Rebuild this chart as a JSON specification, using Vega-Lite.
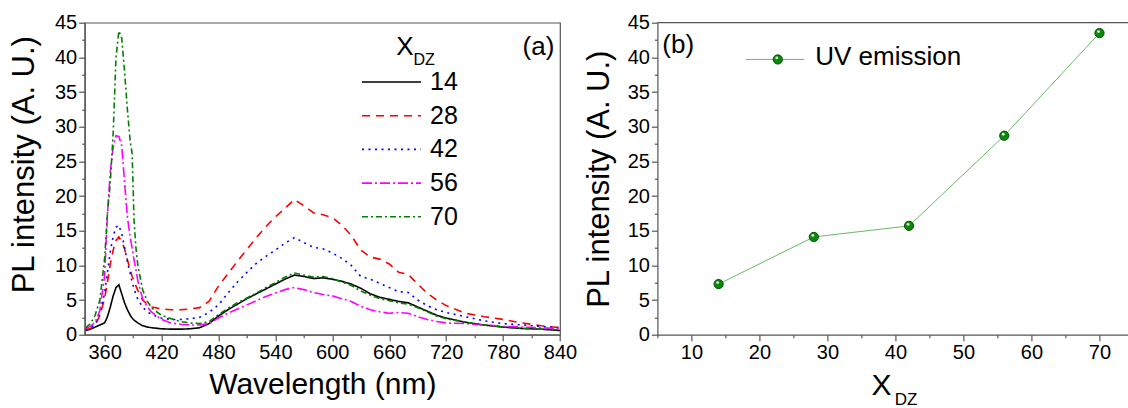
{
  "$schema": "https://vega.github.io/schema/vega-lite/v6.json",
  "autosize": {"type": "none"},
  "padding": {"left": 84.7, "top": 22.7, "right": 1043.3, "bottom": 385.3},
  "background": "white",
  "bounds": "flush",
  "spacing": 96.7,
  "config": {
    "font": "Liberation Sans",
    "view": {"stroke": "#555", "strokeWidth": 1.2},
    "axis": {
      "domainColor": "#555", "domainWidth": 1.2, "tickColor": "#555", "tickWidth": 1.2,
      "labelColor": "#000", "titleColor": "#000",
      "labelFont": "Liberation Sans", "titleFont": "Liberation Sans",
      "labelFontSize": 20, "titleFontWeight": "normal", "grid": false, "tickSize": 6,
      "labelPadding": 2, "labelFlush": false, "labelBound": false
    },
    "text": {"font": "Liberation Sans", "color": "#000"}
  },
  "hconcat": [
    {
      "width": 475.3,
      "height": 312,
      "resolve": {"axis": {"x": "independent", "y": "independent"}},
      "data": {"values": [
        {"nm": 340, "14": 0.6, "28": 0.7, "42": 0.8, "56": 0.9, "70": 1.0},
        {"nm": 345, "14": 0.8, "28": 0.9, "42": 1.0, "56": 1.2, "70": 1.6},
        {"nm": 350, "14": 1.1, "28": 1.3, "42": 1.5, "56": 1.8, "70": 2.8},
        {"nm": 355, "14": 1.4, "28": 2.8, "42": 3.0, "56": 3.5, "70": 5.0},
        {"nm": 360, "14": 1.7, "28": 5.2, "42": 6.0, "56": 8.5, "70": 11.0},
        {"nm": 363, "14": 2.6, "28": 7.6, "42": 9.0, "56": 17.5, "70": 17.5},
        {"nm": 366, "14": 4.0, "28": 10.2, "42": 12.0, "56": 23.5, "70": 22.0},
        {"nm": 369, "14": 5.6, "28": 12.2, "42": 14.2, "56": 27.0, "70": 29.0},
        {"nm": 372, "14": 6.8, "28": 13.6, "42": 15.5, "56": 28.7, "70": 40.0},
        {"nm": 375, "14": 7.2, "28": 14.1, "42": 15.8, "56": 28.6, "70": 43.8},
        {"nm": 378, "14": 5.9, "28": 13.4, "42": 14.6, "56": 27.3, "70": 42.8},
        {"nm": 381, "14": 4.6, "28": 12.4, "42": 12.6, "56": 22.0, "70": 38.0},
        {"nm": 384, "14": 3.6, "28": 10.8, "42": 10.5, "56": 17.0, "70": 32.5},
        {"nm": 387, "14": 2.8, "28": 9.4, "42": 8.8, "56": 14.0, "70": 27.8},
        {"nm": 389, "14": 2.4, "28": 8.4, "42": 7.6, "56": 12.5, "70": 26.2},
        {"nm": 391, "14": 2.1, "28": 7.8, "42": 6.6, "56": 10.8, "70": 16.5},
        {"nm": 393, "14": 1.9, "28": 7.0, "42": 5.8, "56": 9.4, "70": 12.5},
        {"nm": 395, "14": 1.7, "28": 6.4, "42": 5.1, "56": 7.8, "70": 10.0},
        {"nm": 400, "14": 1.3, "28": 5.0, "42": 4.0, "56": 5.2, "70": 6.5},
        {"nm": 405, "14": 1.1, "28": 4.4, "42": 3.3, "56": 4.0, "70": 4.8},
        {"nm": 410, "14": 1.0, "28": 4.0, "42": 2.9, "56": 3.2, "70": 3.8},
        {"nm": 420, "14": 0.85, "28": 3.7, "42": 2.4, "56": 2.2, "70": 2.8},
        {"nm": 430, "14": 0.8, "28": 3.6, "42": 2.2, "56": 1.7, "70": 2.3},
        {"nm": 440, "14": 0.8, "28": 3.6, "42": 2.2, "56": 1.5, "70": 1.9},
        {"nm": 450, "14": 0.85, "28": 3.7, "42": 2.3, "56": 1.4, "70": 1.7},
        {"nm": 460, "14": 1.0, "28": 3.9, "42": 2.5, "56": 1.4, "70": 1.6},
        {"nm": 470, "14": 1.6, "28": 4.8, "42": 3.2, "56": 1.6, "70": 1.9},
        {"nm": 480, "14": 2.7, "28": 7.0, "42": 4.3, "56": 2.4, "70": 2.9},
        {"nm": 490, "14": 3.6, "28": 8.8, "42": 6.0, "56": 3.1, "70": 3.8},
        {"nm": 500, "14": 4.4, "28": 10.6, "42": 7.6, "56": 3.7, "70": 4.6},
        {"nm": 510, "14": 5.2, "28": 12.3, "42": 9.0, "56": 4.3, "70": 5.3},
        {"nm": 520, "14": 5.9, "28": 14.0, "42": 10.3, "56": 4.9, "70": 6.0},
        {"nm": 530, "14": 6.6, "28": 15.6, "42": 11.3, "56": 5.5, "70": 6.8},
        {"nm": 540, "14": 7.3, "28": 17.0, "42": 12.2, "56": 6.0, "70": 7.5},
        {"nm": 550, "14": 8.0, "28": 18.2, "42": 13.2, "56": 6.5, "70": 8.3},
        {"nm": 560, "14": 8.6, "28": 19.5, "42": 14.0, "56": 6.8, "70": 8.9},
        {"nm": 570, "14": 8.4, "28": 18.6, "42": 13.3, "56": 6.5, "70": 8.6},
        {"nm": 580, "14": 8.1, "28": 17.6, "42": 12.6, "56": 6.1, "70": 8.3},
        {"nm": 590, "14": 8.2, "28": 17.3, "42": 12.4, "56": 5.8, "70": 8.4},
        {"nm": 600, "14": 8.0, "28": 16.9, "42": 11.8, "56": 5.6, "70": 8.1},
        {"nm": 610, "14": 7.7, "28": 15.8, "42": 11.0, "56": 5.2, "70": 7.6},
        {"nm": 620, "14": 7.3, "28": 14.3, "42": 10.0, "56": 4.8, "70": 7.1},
        {"nm": 630, "14": 6.7, "28": 12.2, "42": 8.4, "56": 4.1, "70": 6.3},
        {"nm": 640, "14": 5.9, "28": 11.2, "42": 8.0, "56": 3.6, "70": 5.7},
        {"nm": 650, "14": 5.4, "28": 10.9, "42": 7.4, "56": 3.3, "70": 5.2},
        {"nm": 660, "14": 5.1, "28": 10.2, "42": 6.8, "56": 3.1, "70": 4.9},
        {"nm": 670, "14": 4.8, "28": 9.0, "42": 6.2, "56": 3.2, "70": 4.6},
        {"nm": 680, "14": 4.6, "28": 8.7, "42": 6.1, "56": 3.1, "70": 4.4},
        {"nm": 690, "14": 4.0, "28": 7.3, "42": 5.0, "56": 2.6, "70": 3.9},
        {"nm": 700, "14": 3.4, "28": 6.0, "42": 4.2, "56": 2.2, "70": 3.3},
        {"nm": 710, "14": 2.8, "28": 5.0, "42": 3.6, "56": 1.9, "70": 2.7},
        {"nm": 720, "14": 2.4, "28": 4.2, "42": 3.2, "56": 1.7, "70": 2.3},
        {"nm": 740, "14": 1.8, "28": 3.1, "42": 2.6, "56": 1.6, "70": 1.8},
        {"nm": 760, "14": 1.4, "28": 2.6, "42": 2.0, "56": 1.4, "70": 1.4},
        {"nm": 780, "14": 1.1, "28": 2.2, "42": 1.6, "56": 1.2, "70": 1.1},
        {"nm": 800, "14": 0.9, "28": 1.7, "42": 1.4, "56": 1.1, "70": 0.9},
        {"nm": 820, "14": 0.8, "28": 1.3, "42": 1.2, "56": 1.0, "70": 0.8},
        {"nm": 840, "14": 0.6, "28": 1.0, "42": 1.0, "56": 0.9, "70": 0.7}
      ]},
      "transform": [{"fold": ["14", "28", "42", "56", "70"], "as": ["series", "intensity"]}],
      "layer": [
        {
          "mark": {"type": "line", "strokeWidth": 1.6, "clip": true},
          "encoding": {
            "x": {
              "field": "nm", "type": "quantitative",
              "scale": {"domain": [339, 840], "nice": false, "zero": false},
              "axis": {
                "orient": "bottom",
                "values": [360, 420, 480, 540, 600, 660, 720, 780, 840],
                "title": "Wavelength (nm)", "titleFontSize": 30, "titlePadding": 7
              }
            },
            "y": {
              "field": "intensity", "type": "quantitative",
              "scale": {"domain": [0, 45], "nice": false},
              "axis": {
                "orient": "left",
                "values": [0, 5, 10, 15, 20, 25, 30, 35, 40, 45],
                "title": "PL intensity (A. U.)", "titleFontSize": 31, "titlePadding": 14, "titleY": 141.5
              }
            },
            "color": {
              "field": "series", "type": "nominal",
              "scale": {"domain": ["14", "28", "42", "56", "70"], "range": ["#000000", "#ff0000", "#0000ff", "#ff00ff", "#008000"]},
              "legend": {
                "title": null, "orient": "none", "legendX": 276.3, "legendY": 46.8,
                "symbolType": "stroke", "symbolSize": 3481, "symbolStrokeWidth": 1.6,
                "labelFontSize": 25, "labelColor": "#000", "labelOffset": 8, "rowPadding": 7.7,
                "clipHeight": 25, "padding": 0, "symbolOffset": 0
              }
            },
            "strokeDash": {
              "field": "series", "type": "nominal",
              "scale": {"domain": ["14", "28", "42", "56", "70"], "range": [[1, 0], [8, 6], [2, 4.5], [10, 3, 2, 3], [6, 3, 2, 3]]},
              "legend": {
                "title": null, "orient": "none", "legendX": 276.3, "legendY": 46.8,
                "symbolType": "stroke", "symbolSize": 3481, "symbolStrokeWidth": 1.6,
                "labelFontSize": 25, "labelColor": "#000", "labelOffset": 8, "rowPadding": 7.7,
                "clipHeight": 25, "padding": 0, "symbolOffset": 0
              }
            }
          }
        },
        {
          "data": {"values": [{}]},
          "mark": {"type": "text", "text": "(a)", "fontSize": 26, "align": "center", "baseline": "middle"},
          "encoding": {
            "x": {"datum": 817.3, "type": "quantitative", "axis": {"orient": "bottom", "values": [390, 450, 510, 570, 630, 690, 750, 810], "labels": false, "domain": false, "tickSize": 3, "title": null}},
            "y": {"datum": 41.5, "type": "quantitative", "axis": {"orient": "left", "values": [2.5, 7.5, 12.5, 17.5, 22.5, 27.5, 32.5, 37.5, 42.5], "labels": false, "domain": false, "tickSize": 3, "title": null}}
          }
        },
        {
          "data": {"values": [{}]},
          "mark": {"type": "text", "text": "X", "fontSize": 26, "align": "center", "baseline": "alphabetic"},
          "encoding": {"x": {"datum": 676.6, "type": "quantitative", "axis": null}, "y": {"datum": 40.3, "type": "quantitative", "axis": null}}
        },
        {
          "data": {"values": [{}]},
          "mark": {"type": "text", "text": "DZ", "fontSize": 16, "align": "center", "baseline": "alphabetic"},
          "encoding": {"x": {"datum": 696.7, "type": "quantitative", "axis": null}, "y": {"datum": 38.9, "type": "quantitative", "axis": null}}
        }
      ]
    },
    {
      "width": 472,
      "height": 312,
      "view": {"stroke": null},
      "resolve": {"axis": {"x": "independent", "y": "independent"}},
      "data": {"values": [
        {"xdz": 14, "uv": 7.3},
        {"xdz": 28, "uv": 14.1},
        {"xdz": 42, "uv": 15.7},
        {"xdz": 56, "uv": 28.7},
        {"xdz": 70, "uv": 43.5}
      ]},
      "layer": [
        {
          "mark": {"type": "line", "color": "#66bb66", "strokeWidth": 1},
          "encoding": {
            "x": {
              "field": "xdz", "type": "quantitative",
              "scale": {"domain": [5, 74.4], "nice": false, "zero": false},
              "axis": {"orient": "bottom", "values": [10, 20, 30, 40, 50, 60, 70], "title": null}
            },
            "y": {
              "field": "uv", "type": "quantitative",
              "scale": {"domain": [0, 45], "nice": false},
              "axis": {
                "orient": "left",
                "values": [0, 5, 10, 15, 20, 25, 30, 35, 40, 45],
                "title": "PL intensity (A. U.)", "titleFontSize": 31, "titlePadding": 12
              }
            }
          }
        },
        {
          "data": {"values": [{}]},
          "mark": {"type": "rule", "color": "#555", "strokeWidth": 1.2},
          "encoding": {
            "y": {"datum": 45, "type": "quantitative", "axis": {"orient": "left", "values": [2.5, 7.5, 12.5, 17.5, 22.5, 27.5, 32.5, 37.5, 42.5], "labels": false, "domain": false, "tickSize": 3, "title": null}}
          }
        },
        {
          "data": {"values": [{}]},
          "mark": {"type": "text", "text": "(b)", "fontSize": 26, "align": "center", "baseline": "middle"},
          "encoding": {
            "x": {"datum": 8.06, "type": "quantitative", "axis": {"orient": "bottom", "values": [5, 15, 25, 35, 45, 55, 65], "labels": false, "domain": false, "tickSize": 3, "title": null}},
            "y": {"datum": 41.8, "type": "quantitative", "axis": null}
          }
        },
        {
          "mark": {"type": "point", "filled": true, "size": 85, "color": "#0a8a0a", "stroke": "#005000", "strokeWidth": 1, "opacity": 1},
          "encoding": {"x": {"field": "xdz", "type": "quantitative", "axis": null}, "y": {"field": "uv", "type": "quantitative", "axis": null}}
        },
        {
          "mark": {"type": "point", "filled": true, "size": 8, "color": "#d8f0d8", "opacity": 1, "xOffset": -1, "yOffset": -1.5},
          "encoding": {"x": {"field": "xdz", "type": "quantitative", "axis": null}, "y": {"field": "uv", "type": "quantitative", "axis": null}}
        },
        {
          "data": {"values": [{}]},
          "mark": {"type": "rule", "color": "#66bb66", "strokeWidth": 1},
          "encoding": {"x": {"datum": 18.0, "type": "quantitative", "axis": null}, "x2": {"datum": 26.6}, "y": {"datum": 39.7, "type": "quantitative", "axis": null}}
        },
        {
          "data": {"values": [{}]},
          "mark": {"type": "point", "filled": true, "size": 85, "color": "#0a8a0a", "stroke": "#005000", "strokeWidth": 1, "opacity": 1},
          "encoding": {"x": {"datum": 22.7, "type": "quantitative", "axis": null}, "y": {"datum": 39.7, "type": "quantitative", "axis": null}}
        },
        {
          "data": {"values": [{}]},
          "mark": {"type": "point", "filled": true, "size": 8, "color": "#d8f0d8", "opacity": 1, "xOffset": -1, "yOffset": -1.5},
          "encoding": {"x": {"datum": 22.7, "type": "quantitative", "axis": null}, "y": {"datum": 39.7, "type": "quantitative", "axis": null}}
        },
        {
          "data": {"values": [{}]},
          "mark": {"type": "text", "text": "UV emission", "fontSize": 26, "align": "left", "baseline": "alphabetic"},
          "encoding": {"x": {"datum": 28.2, "type": "quantitative", "axis": null}, "y": {"datum": 38.9, "type": "quantitative", "axis": null}}
        },
        {
          "data": {"values": [{}]},
          "mark": {"type": "text", "text": "X", "fontSize": 30, "align": "center", "baseline": "alphabetic"},
          "encoding": {"x": {"datum": 37.96, "type": "quantitative", "axis": null}, "y": {"datum": -8.7, "type": "quantitative", "axis": null}}
        },
        {
          "data": {"values": [{}]},
          "mark": {"type": "text", "text": "DZ", "fontSize": 17, "align": "center", "baseline": "alphabetic"},
          "encoding": {"x": {"datum": 41.56, "type": "quantitative", "axis": null}, "y": {"datum": -10.14, "type": "quantitative", "axis": null}}
        }
      ]
    }
  ]
}
